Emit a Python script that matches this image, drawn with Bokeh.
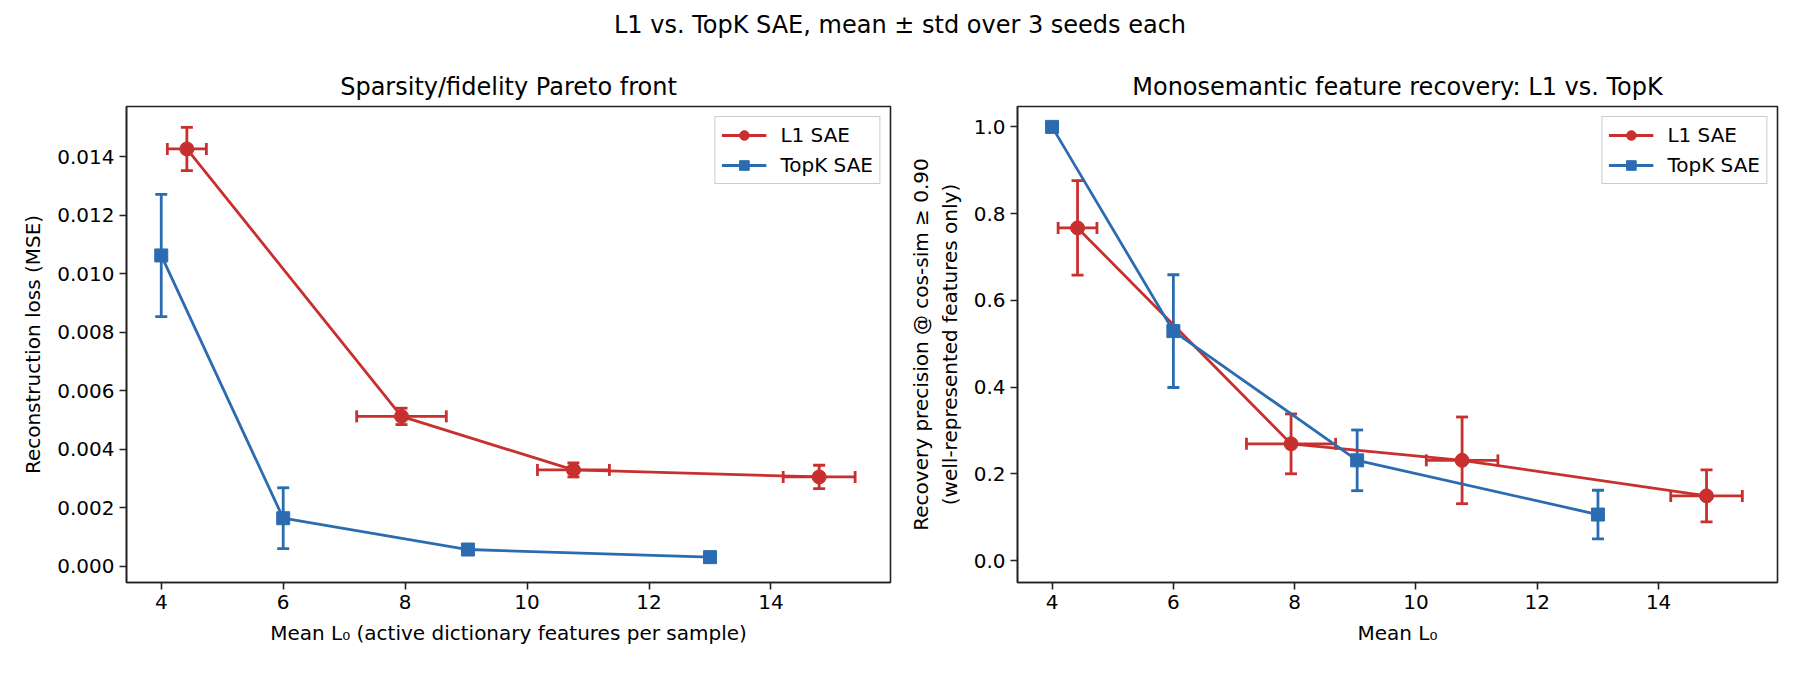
from bokeh.plotting import figure
from bokeh.models import (ColumnDataSource, Whisker, TeeHead, FixedTicker,
                          PrintfTickFormatter, Legend, LegendItem, Range1d, Div)
from bokeh.layouts import column, row
from bokeh.embed import file_html
from bokeh.resources import INLINE

# ---------------- data ----------------
l1_l0 = [4.42, 7.94, 10.76, 14.79]
l1_l0_std = [0.32, 0.735, 0.59, 0.59]
l1_mse = [0.01426, 0.00512, 0.00329, 0.00305]
l1_mse_std = [0.00074, 0.00028, 0.00024, 0.00040]
l1_prec = [0.767, 0.269, 0.231, 0.149]
l1_prec_std = [0.109, 0.069, 0.100, 0.060]

topk_l0 = [4.0, 6.0, 9.03, 13.0]
topk_l0_std = [0.0, 0.0, 0.0, 0.0]
topk_mse = [0.01062, 0.00164, 0.00057, 0.00031]
topk_mse_std = [0.00209, 0.00104, 0.00003, 0.00002]
topk_prec = [1.0, 0.529, 0.231, 0.106]
topk_prec_std = [0.0, 0.130, 0.070, 0.056]

x_ticks = [4, 6, 8, 10, 12, 14]
mse_ticks = [0.0, 0.002, 0.004, 0.006, 0.008, 0.010, 0.012, 0.014]
prec_ticks = [0.0, 0.2, 0.4, 0.6, 0.8, 1.0]

RED = "#c8302f"
BLUE = "#2b6cb1"
FONT = "DejaVu Sans"
SPINE = "#222222"
LW = 2.8


def series(p, xs, xstd, ys, ystd, color, marker, size, label):
    src = ColumnDataSource(dict(
        x=xs, y=ys,
        xl=[a - b for a, b in zip(xs, xstd)], xu=[a + b for a, b in zip(xs, xstd)],
        yl=[a - b for a, b in zip(ys, ystd)], yu=[a + b for a, b in zip(ys, ystd)],
    ))
    if any(v > 0 for v in xstd):
        wx = Whisker(source=src, base="y", lower="xl", upper="xu", dimension="width",
                     line_color=color, line_width=LW,
                     lower_head=TeeHead(size=12, line_color=color, line_width=LW),
                     upper_head=TeeHead(size=12, line_color=color, line_width=LW))
        p.add_layout(wx)
    wy = Whisker(source=src, base="x", lower="yl", upper="yu", dimension="height",
                 line_color=color, line_width=LW,
                 lower_head=TeeHead(size=12, line_color=color, line_width=LW),
                 upper_head=TeeHead(size=12, line_color=color, line_width=LW))
    p.add_layout(wy)
    ln = p.line("x", "y", source=src, line_color=color, line_width=LW)
    sc = p.scatter("x", "y", source=src, marker=marker, size=size,
                   fill_color=color, line_color=color)
    return LegendItem(label=label, renderers=[ln, sc])


def style(p, xlabel, ylabel, yticks, yfmt):
    p.title.text_font = FONT
    p.title.text_font_size = "24px"
    p.title.text_font_style = "normal"
    p.title.align = "center"
    p.title.text_color = "black"
    p.title.standoff = 11
    p.xgrid.visible = False
    p.ygrid.visible = False
    p.outline_line_color = SPINE
    p.outline_line_width = 1.6
    p.outline_line_alpha = 1.0
    p.xaxis.ticker = FixedTicker(ticks=x_ticks)
    p.xaxis.formatter = PrintfTickFormatter(format="%d")
    p.yaxis.ticker = FixedTicker(ticks=yticks)
    p.yaxis.formatter = PrintfTickFormatter(format=yfmt)
    for ax in (p.xaxis[0], p.yaxis[0]):
        ax.axis_line_color = SPINE
        ax.axis_line_width = 1.6
        ax.major_tick_line_color = SPINE
        ax.major_tick_line_width = 1.6
        ax.major_tick_out = 7
        ax.major_tick_in = 0
        ax.minor_tick_out = 0
        ax.minor_tick_in = 0
        ax.major_label_text_font = FONT
        ax.major_label_text_font_size = "20px"
        ax.major_label_text_color = "black"
        ax.major_label_standoff = 5
        ax.axis_label_text_font = FONT
        ax.axis_label_text_font_size = "20px"
        ax.axis_label_text_font_style = "normal"
        ax.axis_label_text_color = "black"
        ax.axis_label_standoff = 9
    p.xaxis.axis_label = xlabel
    p.yaxis.axis_label = ylabel


def legend(p, items):
    lg = Legend(items=items, location="top_right",
                border_line_color="#cccccc", border_line_width=1.2, border_line_alpha=1,
                background_fill_color="white", background_fill_alpha=0.8,
                label_text_font=FONT, label_text_font_size="20px",
                label_text_color="black",
                glyph_width=45, glyph_height=24, label_height=24,
                spacing=6, padding=6, margin=10, label_standoff=14)
    p.add_layout(lg)


# ---------------- left panel ----------------
p1 = figure(width=905, height=625, output_backend="svg", toolbar_location=None,
            x_range=Range1d(3.43, 15.96), y_range=Range1d(-0.000557, 0.01571),
            title="Sparsity/fidelity Pareto front",
            min_border_left=126, min_border_right=15, min_border_top=56, min_border_bottom=93)
style(p1, "Mean L\u2080 (active dictionary features per sample)",
      "Reconstruction loss (MSE)", mse_ticks, "%.3f")
it1 = series(p1, l1_l0, l1_l0_std, l1_mse, l1_mse_std, RED, "circle", 14, "L1 SAE")
it2 = series(p1, topk_l0, topk_l0_std, topk_mse, topk_mse_std, BLUE, "square", 13, "TopK SAE")
legend(p1, [it1, it2])

# ---------------- right panel ----------------
p2 = figure(width=895, height=625, output_backend="svg", toolbar_location=None,
            x_range=Range1d(3.43, 15.96), y_range=Range1d(-0.0507, 1.047),
            title="Monosemantic feature recovery: L1 vs. TopK",
            min_border_left=108, min_border_right=23, min_border_top=56, min_border_bottom=93)
style(p2, "Mean L\u2080",
      "Recovery precision @ cos-sim \u2265 0.90\n(well-represented features only)",
      prec_ticks, "%.1f")
it3 = series(p2, l1_l0, l1_l0_std, l1_prec, l1_prec_std, RED, "circle", 14, "L1 SAE")
it4 = series(p2, topk_l0, topk_l0_std, topk_prec, topk_prec_std, BLUE, "square", 13, "TopK SAE")
legend(p2, [it3, it4])

sup = Div(text="L1 vs. TopK SAE, mean \u00b1 std over 3 seeds each",
          width=1800, height=50, margin=(0, 0, 0, 0),
          styles={"text-align": "center", "font-family": FONT, "font-size": "24px",
                  "line-height": "50px", "color": "black", "width": "1800px"})

layout = column(sup, row(p1, p2, spacing=0), spacing=0)

open("out.html", "w").write(file_html(layout, INLINE))
